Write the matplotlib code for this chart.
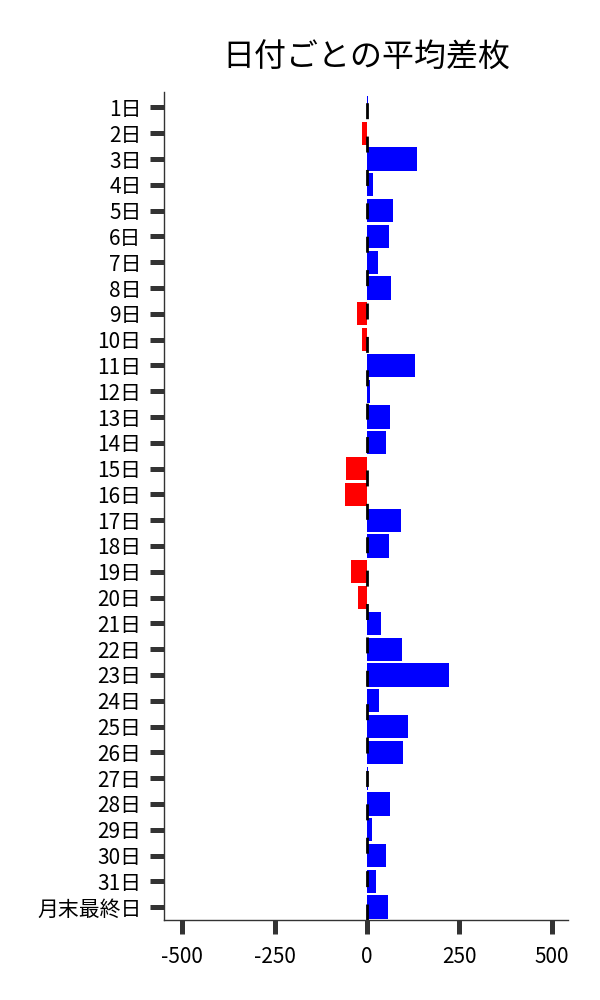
import matplotlib
matplotlib.use("Agg")
import matplotlib.pyplot as plt

plt.rcParams['font.family'] = ['Noto Sans CJK JP', 'DejaVu Sans']
plt.rcParams['axes.unicode_minus'] = False

# 日付ラベルと平均差枚
days = [f"{d}日" for d in range(1, 32)] + ["月末最終日"]
values = [2, -12, 136, 16, 70, 59, 30, 65, -27, -12,
          130, 8, 62, 51, -57, -59, 92, 59, -43, -24,
          38, 95, 222, 32, 111, 97, 4, 62, 13, 51,
          24, 57]
xticks = [-500, -250, 0, 250, 500]

colors = ['#0000ff' if v >= 0 else '#ff0000' for v in values]

fig = plt.figure(figsize=(6, 10), dpi=100)
ax = fig.add_axes([0.273, 0.08, 0.674, 0.828])

ax.barh(range(len(days)), values, height=0.9, color=colors, zorder=2)
ax.axvline(0, color='black', lw=2, dashes=(5.75, 6.27), zorder=3)

ax.set_yticks(range(len(days)))
ax.set_yticklabels(days)
ax.set_ylim(31.5, -0.6)
ax.set_xlim(-550, 545)
ax.set_xticks(xticks)

for s in ['top', 'right']:
    ax.spines[s].set_visible(False)
for s in ['left', 'bottom']:
    ax.spines[s].set_color('#333333')
    ax.spines[s].set_linewidth(1)

ax.tick_params(axis='both', length=10, width=3.6, color='#333333',
               labelsize=15, pad=6)
ax.tick_params(axis='x', pad=9)

ax.set_title("日付ごとの平均差枚", fontsize=23, pad=18)

fig.savefig("out.png", dpi=100)
